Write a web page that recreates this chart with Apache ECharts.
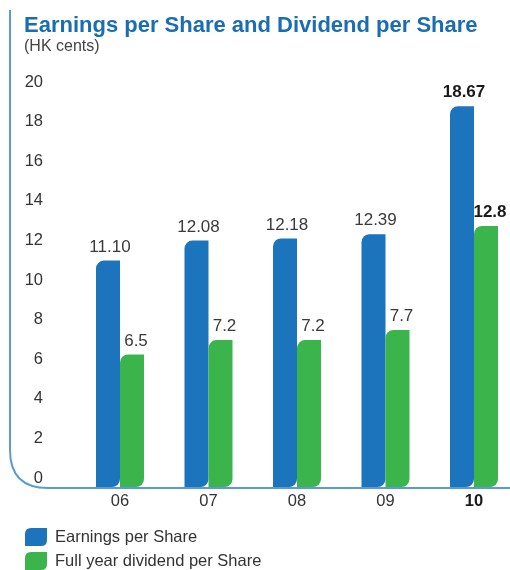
<!DOCTYPE html>
<html><head><meta charset="utf-8">
<script src="https://cdn.jsdelivr.net/npm/echarts@6/dist/echarts.min.js"></script>
<style>html,body{margin:0;padding:0;background:#fff}#c{width:510px;height:570px}</style>
</head><body><div id="c"></div>
<script>
var categories = ['06','07','08','09','10'];
var epsValues = [11.10, 12.08, 12.18, 12.39, 18.67];
var epsLabels = ['11.10','12.08','12.18','12.39','18.67'];
var dpsValues = [6.5, 7.2, 7.2, 7.7, 12.8];
var dpsLabels = ['6.5','7.2','7.2','7.7','12.8'];
var yTicks = [0,2,4,6,8,10,12,14,16,18,20];

var FONT = '"Liberation Sans", Arial, sans-serif';
var BLUE = '#1c74bc', GREEN = '#3bb44b', AXIS = '#5a9bd5';
var leaf = 'path://M6,0 L22,0 L22,12 Q22,18 16,18 L0,18 L0,6 Q0,0 6,0 Z';

function mk(vals, labs){
  return vals.map(function(v,i){
    var last = i === vals.length-1;
    return {value:v, label:{formatter:labs[i], fontWeight:last?'bold':'normal', color:last?'#1a1a1a':'#3a3a3a'}};
  });
}

var chart = echarts.init(document.getElementById('c'));
chart.setOption({
  animation:false,
  textStyle:{fontFamily:FONT},
  title:{text:'Earnings per Share and Dividend per Share', subtext:'(HK cents)', left:19, top:10,
    textStyle:{fontFamily:FONT, fontSize:22, fontWeight:'bold', color:'#1a6db4'},
    subtextStyle:{fontFamily:FONT, fontSize:16, color:'#444'}, itemGap:2},
  legend:{orient:'vertical', left:25, top:528, padding:0, itemWidth:22, itemHeight:18, itemGap:6,
    textStyle:{fontFamily:FONT, fontSize:16.5, color:'#333', padding:[0,0,0,3]},
    data:[{name:'Earnings per Share', icon:leaf},{name:'Full year dividend per Share', icon:leaf}]},
  grid:{left:120, right:36, top:79, bottom:83},
  xAxis:{type:'category', data:categories, boundaryGap:false,
    axisLine:{show:false}, axisTick:{show:false},
    axisLabel:{fontSize:16.5, color:'#333', margin:6, fontFamily:FONT,
      formatter:function(v,i){return i===categories.length-1?'{b|'+v+'}':v;},
      rich:{b:{fontWeight:'bold', fontSize:16.5, color:'#1a1a1a', fontFamily:FONT}}}},
  yAxis:[
    {type:'value', min:0, max:20, interval:2,
      axisLine:{show:false}, axisTick:{show:false}, splitLine:{show:false}, axisLabel:{show:false}},
    {type:'value', position:'left', min:-0.4545, max:20.152,
      axisLine:{show:false}, axisTick:{show:false}, splitLine:{show:false},
      axisLabel:{customValues:yTicks, fontSize:16.5, color:'#333', margin:77, fontFamily:FONT}}
  ],
  series:[
    {name:'Earnings per Share', type:'bar', yAxisIndex:0, data:mk(epsValues, epsLabels), barWidth:24, barGap:'0%',
      itemStyle:{color:BLUE, borderRadius:[8,0,8,0]},
      label:{show:true, position:'top', distance:5, offset:[2,0], fontSize:17, fontFamily:FONT}},
    {name:'Full year dividend per Share', type:'bar', yAxisIndex:0, data:mk(dpsValues, dpsLabels), barWidth:24, barGap:'0%',
      itemStyle:{color:GREEN, borderRadius:[8,0,8,0]},
      label:{show:true, position:'top', distance:5, offset:[4,0], fontSize:17, fontFamily:FONT}}
  ],
  graphic:[
    {type:'line', silent:true, z:10, shape:{x1:10, y1:10, x2:10, y2:450}, style:{stroke:AXIS, lineWidth:2}},
    {type:'bezierCurve', silent:true, z:10, shape:{x1:10, y1:450, cpx1:10, cpy1:488, x2:48, y2:488}, style:{stroke:AXIS, lineWidth:2, fill:null}},
    {type:'line', silent:true, z:10, shape:{x1:48, y1:488, x2:510, y2:488}, style:{stroke:AXIS, lineWidth:2}}
  ]
});
</script></body></html>
